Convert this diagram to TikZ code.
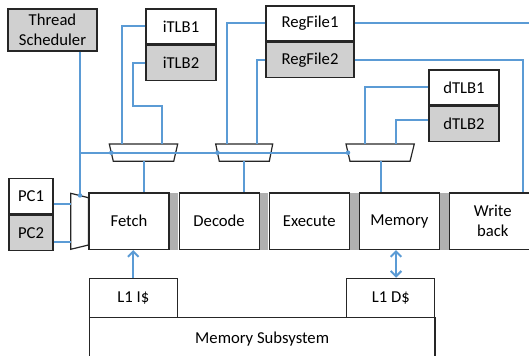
\documentclass[tikz,border=0pt]{standalone}
\usepackage{fontspec}
\setmainfont{Carlito}
\usepackage{tikz}
\usetikzlibrary{positioning, arrows.meta}
\definecolor{wireblue}{HTML}{5B9BD5}
\definecolor{boxgray}{HTML}{D0D0D0}
\definecolor{latchgray}{HTML}{B0B0B0}

\begin{document}
\begin{tikzpicture}[x=0.75pt, y=-0.75pt, font=\fontsize{12.5}{15}\selectfont,
		blk/.style={rectangle, draw=black!85, line width=0.9pt, inner sep=0mm, align=center},
		shaded/.style={blk, fill=boxgray},
		tlb/.style={blk, minimum width=52.5pt, minimum height=26.25pt},
		regf/.style={blk, minimum width=66pt, minimum height=26.25pt},
		pcreg/.style={blk, minimum width=33pt, minimum height=26.6pt},
		stage/.style={blk, minimum width=60pt, minimum height=42.4pt},
		latch/.style={rectangle, fill=latchgray, inner sep=0mm, minimum width=6.3pt, minimum height=42.4pt},
		cache/.style={blk, minimum width=66pt, minimum height=29.55pt},
		muxs/.style={draw=black!85, line width=0.9pt},
		wire/.style={draw=wireblue, line width=1.5pt},
		tip/.style={wire, arrows={-Straight Barb[length=4pt, width=8pt]}},
		dtip/.style={wire, arrows={Straight Barb[length=4pt, width=8pt]-Straight Barb[length=4pt, width=8pt]}},
		junc/.style={fill=wireblue, circle, inner sep=0mm, minimum size=3.4pt}]
	\useasboundingbox (0,0) rectangle (529,356);

	\node (sched) [shaded, minimum width=66.75pt, minimum height=31.5pt] at (52.5,30) {Thread\\Scheduler};
	\node (itlb1) [tlb] at (181,26.5) {iTLB1};
	\node (itlb2) [tlb, fill=boxgray, below=0pt of itlb1] {iTLB2};
	\node (rf1) [regf] at (310,23.5) {RegFile1};
	\node (rf2) [regf, fill=boxgray, below=0pt of rf1] {RegFile2};
	\node (dtlb1) [tlb] at (464,87.5) {dTLB1};
	\node (dtlb2) [tlb, fill=boxgray, below=0pt of dtlb1] {dTLB2};
	\node (pc1) [pcreg] at (31,196.25) {PC1};
	\node (pc2) [pcreg, fill=boxgray, below=0pt of pc1] {PC2};

	\node (fetch) [stage] at (129,221.25) {Fetch};
	\node (lat1) [latch, right=0pt of fetch] {};
	\node (decode) [stage, right=0pt of lat1] {Decode};
	\node (lat2) [latch, right=0pt of decode] {};
	\node (execute) [stage, right=0pt of lat2] {Execute};
	\node (lat3) [latch, right=0pt of execute] {};
	\node (memory) [stage, right=0pt of lat3] {Memory};
	\node (lat4) [latch, right=0pt of memory] {};
	\node (wb) [stage, minimum width=64.9pt, right=0pt of lat4] {Write\\back};

	\node (l1i) [cache] at (133.3,298) {L1 I\$};
	\node (l1d) [cache] at (390.85,298) {L1 D\$};
	\node (memsub) [blk, minimum width=259.3pt, minimum height=31.7pt] at (262.15,338.85) {Memory Subsystem};

	\coordinate (m1in1) at (121.7,144);
	\coordinate (m1in2) at (162.3,144);
	\coordinate (m1sel) at (111.3,152.7);
	\coordinate (m1out) at (144,161.3);
	\coordinate (m2in1) at (227.3,144);
	\coordinate (m2in2) at (257.3,144);
	\coordinate (m2sel) at (217.5,152.7);
	\coordinate (m2out) at (244,161.3);
	\coordinate (m3in1) at (365,144);
	\coordinate (m3in2) at (396,144);
	\coordinate (m3sel) at (348,152.7);
	\coordinate (m3out) at (380.7,161.3);
	\coordinate (pcin1) at (70.7,203.7);
	\coordinate (pcin2) at (70.7,241.7);
	\coordinate (pcsel) at (80,195.4);

	\draw[muxs] (109.3,144) -- (177.7,144) -- (173.7,161.3) -- (113.3,161.3) -- cycle;
	\draw[muxs] (215.7,144) -- (272.7,144) -- (269.3,161.3) -- (219.3,161.3) -- cycle;
	\draw[muxs] (346,144) -- (414.3,144) -- (410,161.3) -- (350,161.3) -- cycle;
	\draw[muxs] (70.7,193.3) -- (88.5,197.7) -- (88.5,245) -- (70.7,249.3) -- cycle;

	\draw[wire] (itlb1.west) -| (m1in1);
	\draw[wire] (itlb2.west) -| ++(-12,43.3) -| (m1in2);
	\draw[wire] (rf1.west) -| (m2in1);
	\draw[wire] (rf2.west) -| (m2in2);
	\draw[wire] ([yshift=2.6pt]dtlb2.west) -| (m3in2);
	\draw[wire] (dtlb1.west) -| (m3in1);
	\draw[wire] (rf1.east) -| ([xshift=28.9pt]wb.north);
	\draw[wire] (rf2.east) -| ([xshift=22.9pt]wb.north);
	\draw[wire] (m1out) -- (m1out |- fetch.north);
	\draw[wire] (m2out) -- (m2out |- decode.north);
	\draw[wire] (m3out) -- (m3out |- memory.north);
	\draw[wire] (pcsel |- sched.south) -- (pcsel);
	\draw[wire] (pcsel |- m3sel) -- (m3sel);
	\draw[wire] (pcin1 -| pc1.east) -- (pcin1);
	\draw[wire] (pcin2 -| pc2.east) -- (pcin2);
	\node (j0) [junc] at (pcsel) {};
	\node (j1) [junc] at (m1sel) {};
	\node (j2) [junc] at (m2sel) {};
	\node (j3) [junc] at (m3sel) {};

	\draw[tip] (l1i.north) -- (l1i.north |- fetch.south);
	\draw[dtip] ([xshift=3.9pt]l1d.north) -- ([xshift=3.9pt]l1d.north |- memory.south);
\end{tikzpicture}
\end{document}
